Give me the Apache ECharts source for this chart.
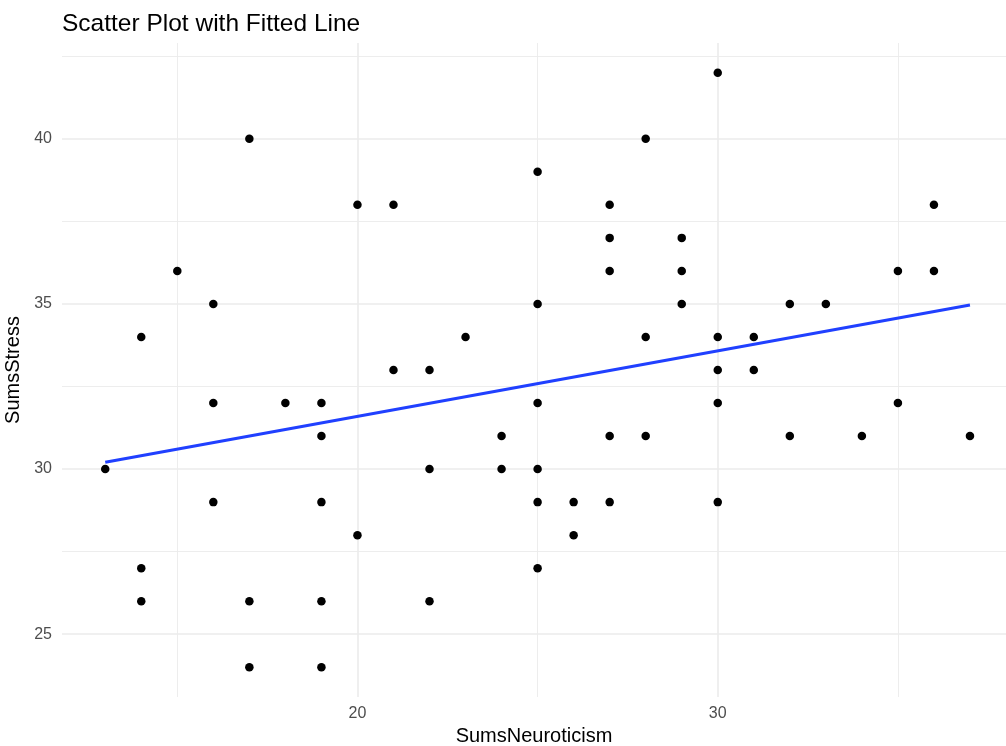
<!DOCTYPE html>
<html>
<head>
<meta charset="utf-8">
<script src="https://cdn.jsdelivr.net/npm/echarts@6/dist/echarts.min.js"></script>
<style>
html,body{margin:0;padding:0;background:#fff;}
#chart{width:1006px;height:746px;}
</style>
</head>
<body>
<div id="chart"></div>
<script>
// ---- data ----
const neuroticism = [13,14,14,14,15,16,16,16,17,17,17,18,19,19,19,19,19,20,20,21,21,22,22,22,23,24,24,25,25,25,25,25,25,26,26,27,27,27,27,27,28,28,28,29,29,29,30,30,30,30,30,31,31,32,32,33,34,35,35,36,36,37];
const stress      = [30,34,27,26,36,35,32,29,40,26,24,32,32,31,29,26,24,38,28,38,33,33,30,26,34,31,30,39,35,32,30,29,27,29,28,38,37,36,31,29,40,34,31,37,36,35,42,34,33,32,29,34,33,35,31,35,31,36,32,38,36,31];
const fitX = [13, 37];
const fitY = [30.21, 34.97];
const xMajorTicks = [20, 30];
const xMinorTicks = [15, 25, 35];
const yMajorTicks = [25, 30, 35, 40];
const yMinorTicks = [27.5, 32.5, 37.5, 42.5];
const titleText = 'Scatter Plot with Fitted Line';
const xName = 'SumsNeuroticism';
const yName = 'SumsStress';

const FONT = '"Liberation Sans", Arial, Helvetica, sans-serif';
const points = neuroticism.map((x, i) => [x, stress[i]]);
const fitLine = fitX.map((x, i) => [x, fitY[i]]);

const GRID = '#ebebeb';
const gridLines = []
  .concat(xMajorTicks.map(v => ({xAxis: v, lineStyle: {color: GRID, width: 1.6, type: 'solid'}})))
  .concat(xMinorTicks.map(v => ({xAxis: v, lineStyle: {color: GRID, width: 0.9, type: 'solid'}})))
  .concat(yMajorTicks.map(v => ({yAxis: v, lineStyle: {color: GRID, width: 1.6, type: 'solid'}})))
  .concat(yMinorTicks.map(v => ({yAxis: v, lineStyle: {color: GRID, width: 0.9, type: 'solid'}})));

function labelOnly(list) {
  return v => {
    const r = Math.round(v * 1000) / 1000;
    return list.indexOf(r) >= 0 ? String(r) : '';
  };
}

const chart = echarts.init(document.getElementById('chart'), null, {renderer: 'canvas'});
chart.setOption({
  animation: false,
  backgroundColor: '#ffffff',
  title: {
    text: titleText,
    left: 57,
    top: 7,
    textStyle: {fontFamily: FONT, fontSize: 24.5, fontWeight: 'normal', color: '#000'}
  },
  grid: {left: 62, right: 0, top: 43, bottom: 49, containLabel: false, outerBoundsMode: 'none'},
  xAxis: {
    type: 'value',
    min: 11.8,
    max: 38.0,
    interval: 0.1,
    name: xName,
    nameLocation: 'middle',
    nameGap: 29,
    nameTextStyle: {fontFamily: FONT, fontSize: 20, color: '#000'},
    axisLine: {show: false},
    axisTick: {show: false},
    splitLine: {show: false},
    axisLabel: {
      showMinLabel: false, showMaxLabel: false,
      hideOverlap: false,
      margin: 9,
      fontFamily: FONT, fontSize: 16, color: '#4d4d4d',
      formatter: labelOnly(xMajorTicks)
    }
  },
  yAxis: {
    type: 'value',
    min: 23.1,
    max: 42.9,
    interval: 0.1,
    name: yName,
    nameLocation: 'middle',
    nameGap: 31,
    nameTextStyle: {fontFamily: FONT, fontSize: 20, color: '#000'},
    axisLine: {show: false},
    axisTick: {show: false},
    splitLine: {show: false},
    axisLabel: {
      showMinLabel: false, showMaxLabel: false,
      hideOverlap: false,
      margin: 10,
      fontFamily: FONT, fontSize: 16, color: '#4d4d4d',
      formatter: labelOnly(yMajorTicks)
    }
  },
  series: [
    {
      name: 'grid',
      type: 'line',
      data: [],
      z: 0,
      silent: true,
      markLine: {
        silent: true,
        z: 0,
        symbol: ['none', 'none'],
        label: {show: false},
        emphasis: {disabled: true},
        animation: false,
        data: gridLines
      }
    },
    {
      name: 'points',
      type: 'scatter',
      data: points,
      symbol: 'circle',
      symbolSize: 8.5,
      itemStyle: {color: '#000', opacity: 1},
      z: 3
    },
    {
      name: 'fit',
      type: 'line',
      data: fitLine,
      showSymbol: false,
      symbol: 'none',
      lineStyle: {color: '#2040ff', width: 3},
      z: 4
    }
  ]
});
</script>
</body>
</html>
